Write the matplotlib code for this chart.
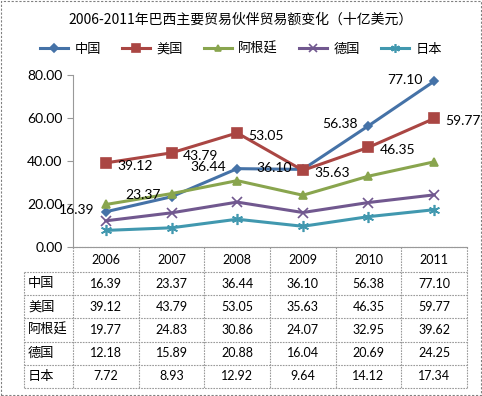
import matplotlib
matplotlib.use('Agg')
import matplotlib.pyplot as plt
from matplotlib.patches import Rectangle
from matplotlib.lines import Line2D

plt.rcParams['font.family'] = ['Noto Sans CJK SC', 'DejaVu Sans']

years = ['2006', '2007', '2008', '2009', '2010', '2011']
countries = ['中国', '美国', '阿根廷', '德国', '日本']
china = [16.39, 23.37, 36.44, 36.10, 56.38, 77.10]
usa = [39.12, 43.79, 53.05, 35.63, 46.35, 59.77]
argentina = [19.77, 24.83, 30.86, 24.07, 32.95, 39.62]
germany = [12.18, 15.89, 20.88, 16.04, 20.69, 24.25]
japan = [7.72, 8.93, 12.92, 9.64, 14.12, 17.34]
series = [china, usa, argentina, germany, japan]

colors = ['#4572A7', '#AA4643', '#89A54E', '#71588F', '#4198AF']
markers = ['D', 's', '^', 'x', (6, 2, 0)]
msizes = [4.5, 7, 6, 7, 8]

W, H = 482, 396
fig = plt.figure(figsize=(W / 100, H / 100), dpi=100)

# plot area in pixels
x0, x1 = 73, 467
ytop, ybot = 75, 247
ax = fig.add_axes([x0 / W, 1 - ybot / H, (x1 - x0) / W, (ybot - ytop) / H])
ax.set_xlim(-0.5, 5.5)
ax.set_ylim(0, 80)
ax.set_yticks([0, 20, 40, 60, 80])
ax.set_yticklabels(['%.2f' % v for v in [0, 20, 40, 60, 80]], fontsize=10,
                   family=['Lato', 'DejaVu Sans'])
ax.set_xticks([])
for s in ['top', 'right']:
    ax.spines[s].set_visible(False)
ax.spines['left'].set_color('#999999')
ax.spines['bottom'].set_color('#999999')
ax.tick_params(axis='y', colors='#999999', labelcolor='black', length=4)

xs = list(range(len(years)))
for name, vals, c, m, ms in zip(countries, series, colors, markers, msizes):
    ax.plot(xs, vals, color=c, lw=2.2, marker=m, markersize=ms,
            markeredgewidth=1.2, label=name, clip_on=False)

for i, v in enumerate(china):
    ax.annotate('%.2f' % v, (i, v), xytext=(-8, 1), textcoords='offset points',
                ha='right', va='center', fontsize=10, family=['Lato', 'DejaVu Sans'])
for i, v in enumerate(usa):
    ax.annotate('%.2f' % v, (i, v), xytext=(8, -2), textcoords='offset points',
                ha='left', va='center', fontsize=10, family=['Lato', 'DejaVu Sans'])

# title and legend
fig.text(0.5, 1 - 20 / H, '2006-2011年巴西主要贸易伙伴贸易额变化（十亿美元）',
         ha='center', va='center', fontsize=10)
fig.legend(loc='center', bbox_to_anchor=(0.5, 1 - 49 / H), ncol=5,
           frameon=False, fontsize=9.5, handlelength=2.1, columnspacing=1.6,
           handletextpad=0.5, markerscale=0.8)

# data table
lx = 24
hdr_bot = 272
row_h = 23.2
tbl_bot = hdr_bot + row_h * len(countries)
col_w = (x1 - x0) / len(years)
lc = '#9a9a9a'


def fx(px):
    return px / W


def fy(py):
    return 1 - py / H


def hline(xa, xb, y):
    fig.add_artist(Line2D([fx(xa), fx(xb)], [fy(y), fy(y)], color=lc, lw=0.8,
                          linestyle=(0, (1.5, 1))))


def vline(x, ya, yb):
    fig.add_artist(Line2D([fx(x), fx(x)], [fy(ya), fy(yb)], color=lc, lw=0.8,
                          linestyle=(0, (1.5, 1))))


hline(x0, x1, ybot)
hline(lx, x1, hdr_bot)
for r in range(1, len(countries) + 1):
    hline(lx, x1, hdr_bot + r * row_h)
for c in range(len(years) + 1):
    vline(x0 + c * col_w, ybot, tbl_bot)
vline(lx, hdr_bot, tbl_bot)

for c, yr in enumerate(years):
    fig.text(fx(x0 + (c + 0.5) * col_w), fy((ybot + hdr_bot) / 2), yr,
             ha='center', va='center', fontsize=9, family=['Lato', 'DejaVu Sans'])
for r, (name, vals) in enumerate(zip(countries, series)):
    yc = hdr_bot + (r + 0.5) * row_h
    fig.text(fx(lx + 4), fy(yc), name, ha='left', va='center', fontsize=9.5)
    for c, v in enumerate(vals):
        fig.text(fx(x0 + (c + 0.5) * col_w), fy(yc), '%.2f' % v,
                 ha='center', va='center', fontsize=9, family=['Lato', 'DejaVu Sans'])

# dashed outer border
fig.add_artist(Rectangle((0.002, 0.003), 0.995, 0.994, transform=fig.transFigure,
                         fill=False, edgecolor='#808080', lw=0.8, linestyle=(0, (2, 1.5))))

fig.savefig('out.png', dpi=100)
